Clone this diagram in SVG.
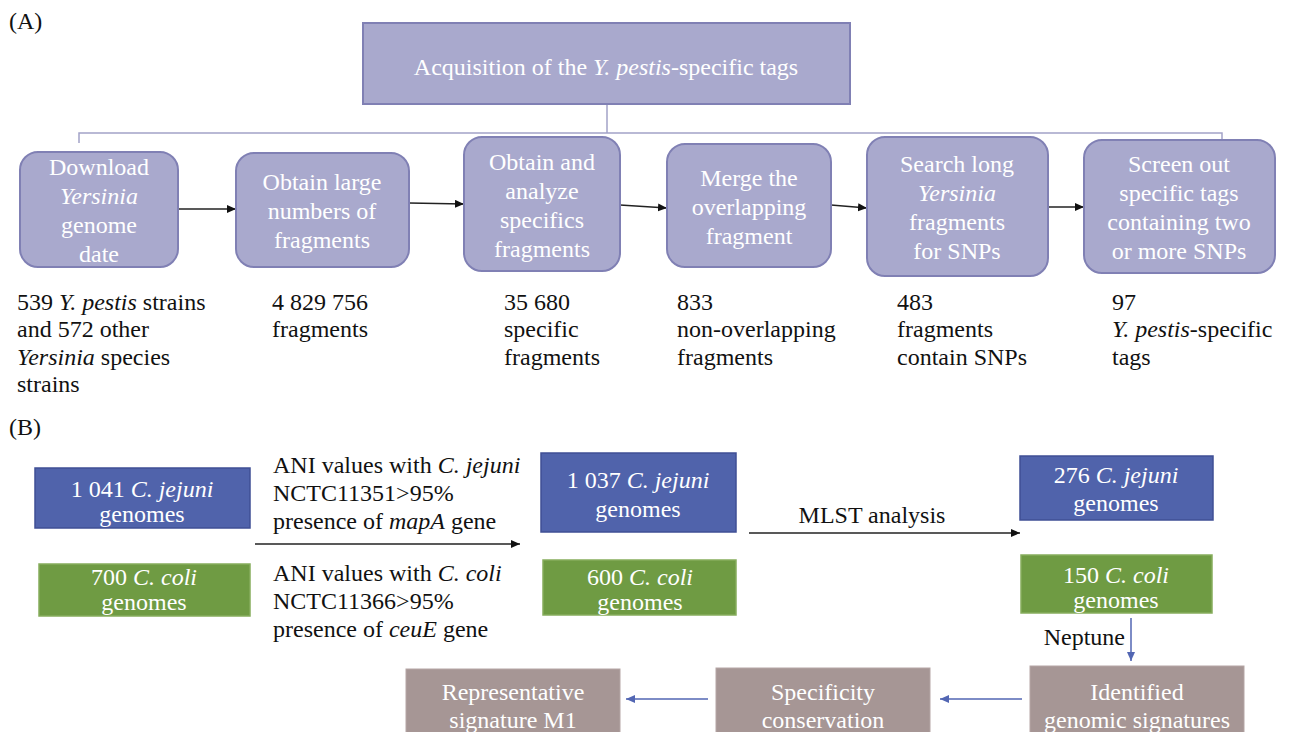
<svg xmlns="http://www.w3.org/2000/svg" width="1289" height="732" viewBox="0 0 1289 732">
<style>
text{font-family:"Liberation Serif","Times New Roman",serif;font-size:24px}
.w{fill:#ffffff}
.k{fill:#111111}
.c{text-anchor:middle}
.i{font-style:italic}
.pbox{fill:#a9a9cd;stroke:#8080b4;stroke-width:2}
.blue{fill:#5063ab;stroke:#3f4f95;stroke-width:1.5}
.green{fill:#6f9b43;stroke:#86ad5c;stroke-width:1.5}
.mauve{fill:#a69695;stroke:#b5a6a5;stroke-width:1}
.tree{fill:none;stroke:#a3a3c8;stroke-width:1.5}
.arr{fill:none;stroke:#222222;stroke-width:1.5;marker-end:url(#ah)}
.barr{fill:none;stroke:#5266b3;stroke-width:1.5;marker-end:url(#bh)}
</style>
<defs>
<marker id="ah" markerUnits="userSpaceOnUse" markerWidth="10" markerHeight="10" refX="9" refY="4" orient="auto"><path d="M0,0 L9,4 L0,8 Z" fill="#111111"/></marker>
<marker id="bh" markerUnits="userSpaceOnUse" markerWidth="10" markerHeight="10" refX="9" refY="4" orient="auto"><path d="M0,0 L9,4 L0,8 Z" fill="#5266b3"/></marker>
</defs>
<rect width="1289" height="732" fill="#ffffff"/>

<text x="9" y="29" class="k">(A)</text>
<text x="9" y="435" class="k">(B)</text>

<g id="connectors">
<path class="tree" d="M607,104 V133 M79,143 V133 H1222 V142"/>
<path class="arr" d="M178,209 L236,209"/>
<path class="arr" d="M409,203 L464,204"/>
<path class="arr" d="M620,205 L667,208"/>
<path class="arr" d="M831,205 L867,208"/>
<path class="arr" d="M1048,207 L1084,207"/>
<path class="arr" d="M255,544 L520,544"/>
<path class="arr" d="M749,533 L1020,533"/>
<path class="barr" d="M1131,618 L1131,661"/>
<path class="barr" d="M1022,699 L940,699"/>
<path class="barr" d="M708,699 L626,699"/>
</g>

<g id="title">
<rect class="pbox" x="363" y="23" width="487" height="81"/>
<text x="606" y="75" class="w c">Acquisition of the <tspan class="i">Y. pestis</tspan>-specific tags</text>
</g>

<g id="a1">
<rect class="pbox" x="20" y="152" width="158" height="115" rx="18"/>
<text class="w c" x="99" y="175">Download</text>
<text class="w c i" x="99" y="204">Yersinia</text>
<text class="w c" x="99" y="233">genome</text>
<text class="w c" x="99" y="262">date</text>
</g>
<g id="a2">
<rect class="pbox" x="236" y="153" width="173" height="114" rx="18"/>
<text class="w c" x="322" y="190">Obtain large</text>
<text class="w c" x="322" y="219">numbers of</text>
<text class="w c" x="322" y="248">fragments</text>
</g>
<g id="a3">
<rect class="pbox" x="464" y="137" width="156" height="134" rx="18"/>
<text class="w c" x="542" y="170">Obtain and</text>
<text class="w c" x="542" y="199">analyze</text>
<text class="w c" x="542" y="228">specifics</text>
<text class="w c" x="542" y="257">fragments</text>
</g>
<g id="a4">
<rect class="pbox" x="667" y="144" width="164" height="123" rx="18"/>
<text class="w c" x="749" y="186">Merge the</text>
<text class="w c" x="749" y="215">overlapping</text>
<text class="w c" x="749" y="244">fragment</text>
</g>
<g id="a5">
<rect class="pbox" x="867" y="137" width="181" height="139" rx="18"/>
<text class="w c" x="957" y="172">Search long</text>
<text class="w c i" x="957" y="201">Yersinia</text>
<text class="w c" x="957" y="230">fragments</text>
<text class="w c" x="957" y="259">for SNPs</text>
</g>
<g id="a6">
<rect class="pbox" x="1084" y="140" width="191" height="133" rx="18"/>
<text class="w c" x="1179" y="172">Screen out</text>
<text class="w c" x="1179" y="201">specific tags</text>
<text class="w c" x="1179" y="230">containing two</text>
<text class="w c" x="1179" y="259">or more SNPs</text>
</g>

<g id="labels">
<text class="k" x="17" y="310">539 <tspan class="i">Y. pestis</tspan> strains</text>
<text class="k" x="17" y="337">and 572 other</text>
<text class="k" x="17" y="365"><tspan class="i">Yersinia</tspan> species</text>
<text class="k" x="17" y="392">strains</text>
<text class="k" x="272" y="310">4 829 756</text>
<text class="k" x="272" y="337">fragments</text>
<text class="k" x="504" y="310">35 680</text>
<text class="k" x="504" y="337">specific</text>
<text class="k" x="504" y="365">fragments</text>
<text class="k" x="677" y="310">833</text>
<text class="k" x="677" y="337">non-overlapping</text>
<text class="k" x="677" y="365">fragments</text>
<text class="k" x="897" y="310">483</text>
<text class="k" x="897" y="337">fragments</text>
<text class="k" x="897" y="365">contain SNPs</text>
<text class="k" x="1112" y="310">97</text>
<text class="k" x="1112" y="337"><tspan class="i">Y. pestis</tspan>-specific</text>
<text class="k" x="1112" y="365">tags</text>
</g>

<g id="b-j1">
<rect class="blue" x="35" y="468" width="215" height="60"/>
<text class="w c" x="142" y="497">1 041 <tspan class="i">C. jejuni</tspan></text>
<text class="w c" x="142" y="522">genomes</text>
</g>
<g id="b-c1">
<rect class="green" x="39" y="564" width="211" height="52"/>
<text class="w c" x="144" y="585">700 <tspan class="i">C. coli</tspan></text>
<text class="w c" x="144" y="610">genomes</text>
</g>
<g id="ani">
<text class="k" x="273" y="473">ANI values with <tspan class="i">C. jejuni</tspan></text>
<text class="k" x="273" y="501">NCTC11351&gt;95%</text>
<text class="k" x="273" y="529">presence of <tspan class="i">mapA</tspan> gene</text>
<text class="k" x="273" y="581">ANI values with <tspan class="i">C. coli</tspan></text>
<text class="k" x="273" y="609">NCTC11366&gt;95%</text>
<text class="k" x="273" y="637">presence of <tspan class="i">ceuE</tspan> gene</text>
</g>
<g id="b-j2">
<rect class="blue" x="541" y="453" width="195" height="79"/>
<text class="w c" x="638" y="488">1 037 <tspan class="i">C. jejuni</tspan></text>
<text class="w c" x="638" y="517">genomes</text>
</g>
<g id="b-c2">
<rect class="green" x="543" y="560" width="193" height="55"/>
<text class="w c" x="640" y="585">600 <tspan class="i">C. coli</tspan></text>
<text class="w c" x="640" y="610">genomes</text>
</g>
<text class="k c" x="872" y="523">MLST analysis</text>
<g id="b-j3">
<rect class="blue" x="1020" y="456" width="193" height="64"/>
<text class="w c" x="1116" y="483">276 <tspan class="i">C. jejuni</tspan></text>
<text class="w c" x="1116" y="511">genomes</text>
</g>
<g id="b-c3">
<rect class="green" x="1021" y="555" width="191" height="58"/>
<text class="w c" x="1116" y="583">150 <tspan class="i">C. coli</tspan></text>
<text class="w c" x="1116" y="608">genomes</text>
</g>
<text class="k" x="1125" y="645" text-anchor="end">Neptune</text>
<g id="b-id">
<rect class="mauve" x="1030" y="666" width="214" height="70"/>
<text class="w c" x="1137" y="700">Identified</text>
<text class="w c" x="1137" y="728">genomic signatures</text>
</g>
<g id="b-spec">
<rect class="mauve" x="716" y="668" width="214" height="68"/>
<text class="w c" x="823" y="700">Specificity</text>
<text class="w c" x="823" y="728">conservation</text>
</g>
<g id="b-rep">
<rect class="mauve" x="406" y="669" width="214" height="67"/>
<text class="w c" x="513" y="700">Representative</text>
<text class="w c" x="513" y="728">signature M1</text>
</g>
</svg>
